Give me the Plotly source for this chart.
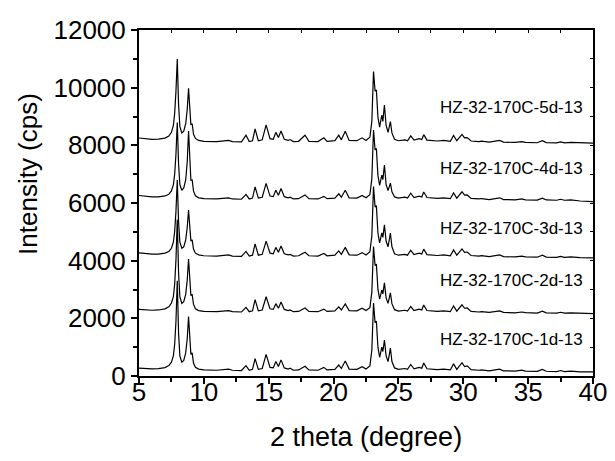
import plotly.graph_objects as go

# 2 theta key points (degree)
two_theta = [
    5.0, 5.5, 6.0, 6.5, 7.0, 7.3, 7.5, 7.65, 7.75, 7.85,
    7.95, 8.05, 8.15, 8.3, 8.45, 8.6, 8.72, 8.82, 8.92, 9.0,
    9.1, 9.2, 9.35, 9.6, 10.0, 11.0, 11.9, 12.2, 12.9, 13.25,
    13.5, 13.75, 13.95, 14.2, 14.5, 14.8, 15.1, 15.35, 15.55, 15.75,
    15.95, 16.2, 16.5, 16.65, 16.9, 17.3, 17.8, 18.1, 18.8, 19.25,
    19.5, 20.1, 20.4, 20.6, 20.9, 21.2, 21.8, 22.2, 22.5, 22.8,
    22.95, 23.08, 23.2, 23.3, 23.42, 23.55, 23.72, 23.8, 23.92, 24.05,
    24.2, 24.38, 24.5, 24.7, 25.0, 25.5, 25.7, 25.95, 26.2, 26.6,
    26.8, 26.95, 27.2, 27.5, 28.0, 28.5, 29.0, 29.25, 29.5, 29.9,
    30.1, 30.3, 30.6, 31.2, 31.4, 32.0, 32.8, 33.1, 34.0, 34.5,
    34.8, 35.7, 36.1, 36.4, 37.2, 37.5, 37.8, 38.3, 39.0, 40.0,
]

# intensity (cps), before stacking
counts_1d = [
    270, 255, 245, 255, 290, 360, 480, 700, 1100, 1900,
    3300, 1500, 700, 480, 540, 800, 1300, 2060, 1100, 750,
    800, 450, 300, 240, 215, 200, 240, 200, 190, 360,
    200, 230, 600, 230, 260, 750, 300, 280, 500, 330,
    560, 280, 240, 270, 200, 210, 340, 210, 200, 300,
    210, 230, 380, 260, 520, 240, 230, 320, 240, 350,
    900, 2530, 1850, 1900, 1000, 650, 1000, 850, 1250, 700,
    500, 970, 500, 280, 230, 260, 230, 400, 250, 300,
    270, 450, 250, 240, 220, 240, 210, 420, 230, 460,
    330, 350, 220, 200, 215, 180, 240, 180, 170, 200,
    170, 160, 230, 165, 155, 190, 155, 170, 145, 140,
]
counts_2d = [
    280, 260, 250, 260, 300, 370, 500, 720, 1150, 2000,
    3400, 1550, 720, 490, 550, 800, 1300, 2030, 1100, 760,
    800, 460, 300, 240, 210, 200, 240, 200, 190, 350,
    200, 230, 620, 230, 260, 720, 300, 280, 480, 320,
    540, 280, 240, 260, 200, 210, 330, 210, 200, 290,
    210, 230, 370, 260, 470, 240, 230, 320, 240, 340,
    880, 2460, 1800, 1850, 980, 640, 950, 820, 1200, 680,
    490, 850, 480, 270, 220, 250, 220, 380, 240, 290,
    260, 430, 240, 230, 210, 230, 200, 400, 220, 440,
    320, 330, 210, 190, 205, 175, 230, 175, 160, 190,
    165, 150, 220, 160, 150, 180, 150, 160, 140, 130,
]
counts_3d = [
    310, 280, 265, 270, 300, 360, 470, 680, 1050, 1750,
    2840, 1400, 680, 470, 520, 760, 1200, 1800, 1000, 720,
    760, 440, 300, 240, 210, 200, 240, 200, 190, 360,
    200, 230, 620, 230, 260, 720, 300, 280, 500, 330,
    550, 280, 240, 260, 200, 210, 330, 210, 200, 290,
    210, 230, 380, 260, 500, 240, 230, 320, 240, 350,
    900, 2610, 1900, 1950, 1000, 660, 1000, 850, 1280, 720,
    520, 1000, 520, 280, 230, 260, 230, 400, 250, 300,
    270, 440, 250, 240, 220, 240, 210, 410, 230, 450,
    330, 340, 220, 200, 215, 180, 240, 180, 170, 200,
    170, 160, 230, 165, 155, 190, 155, 170, 145, 140,
]
counts_4d = [
    320, 290, 270, 275, 305, 365, 480, 690, 1060, 1760,
    2850, 1420, 700, 500, 580, 860, 1500, 2560, 1300, 850,
    860, 480, 310, 240, 210, 200, 240, 200, 190, 360,
    200, 230, 620, 230, 260, 740, 300, 280, 500, 330,
    560, 280, 240, 260, 200, 210, 340, 210, 200, 290,
    210, 230, 380, 260, 500, 240, 230, 320, 240, 350,
    900, 2590, 1900, 1950, 1020, 670, 1030, 870, 1380, 700,
    490, 750, 450, 270, 230, 260, 230, 400, 250, 300,
    270, 440, 250, 240, 220, 240, 210, 410, 230, 450,
    330, 340, 220, 200, 215, 180, 240, 180, 170, 200,
    170, 160, 230, 165, 155, 190, 155, 170, 130, 110,
]
counts_5d = [
    325, 300, 280, 285, 320, 390, 520, 760, 1180, 1950,
    3060, 1500, 720, 500, 560, 820, 1320, 2050, 1120, 780,
    820, 460, 310, 240, 210, 200, 240, 200, 190, 420,
    200, 230, 640, 230, 260, 780, 300, 280, 520, 340,
    570, 280, 240, 270, 200, 210, 420, 210, 200, 330,
    210, 230, 420, 260, 560, 240, 230, 330, 240, 350,
    900, 2630, 1950, 1990, 1050, 700, 1120, 900, 1470, 760,
    520, 890, 500, 280, 230, 260, 230, 400, 250, 300,
    270, 440, 250, 240, 220, 240, 210, 410, 230, 450,
    330, 340, 220, 200, 215, 180, 240, 180, 170, 200,
    170, 160, 230, 165, 155, 190, 155, 170, 160, 150,
]

samples = ["HZ-32-170C-1d-13", "HZ-32-170C-2d-13", "HZ-32-170C-3d-13",
           "HZ-32-170C-4d-13", "HZ-32-170C-5d-13"]
stack_offsets = [0, 2030, 3960, 5940, 7930]
label_y = [1249, 3295, 5133, 7180, 9296]
label_x = 39.4

all_counts = [counts_1d, counts_2d, counts_3d, counts_4d, counts_5d]
for c in all_counts:
    assert len(c) == len(two_theta), len(c)

fig = go.Figure()
for name, cts, off in zip(samples, all_counts, stack_offsets):
    fig.add_trace(go.Scatter(
        x=two_theta, y=[v + off for v in cts], mode="lines", name=name,
        line=dict(color="black", width=1.2), showlegend=False,
    ))

# empty trace for mirrored top/right axes
fig.add_trace(go.Scatter(x=[], y=[], xaxis="x2", yaxis="y2", showlegend=False,
                         hoverinfo="skip"))

FONT = "Liberation Sans, Arial, sans-serif"

fig.update_layout(
    width=615, height=461,
    margin=dict(l=139, r=22, t=30, b=85, autoexpand=False),
    plot_bgcolor="white", paper_bgcolor="white",
    font=dict(family=FONT, color="black"),
    showlegend=False,
    xaxis=dict(
        range=[5, 40], tick0=5, dtick=5, ticks="outside", ticklen=6,
        tickwidth=1.5, tickcolor="black", showline=True, linecolor="black",
        linewidth=1.5, showgrid=False, zeroline=False,
        tickfont=dict(size=26, family=FONT, color="black"),
        ticklabelstandoff=-14,
        minor=dict(tick0=5, dtick=2.5, ticks="outside", ticklen=4,
                   tickwidth=1.5, tickcolor="black", showgrid=False),
    ),
    yaxis=dict(
        range=[0, 12000], tick0=0, dtick=2000, ticks="outside", ticklen=6,
        tickwidth=1.5, tickcolor="black", showline=True, linecolor="black",
        linewidth=2, showgrid=False, zeroline=False, tickformat="d",
        tickfont=dict(size=26, family=FONT, color="black"),
        minor=dict(tick0=0, dtick=1000, ticks="outside", ticklen=4,
                   tickwidth=1.5, tickcolor="black", showgrid=False),
    ),
    xaxis2=dict(
        overlaying="x", side="top", anchor="y", range=[5, 40], tick0=5,
        dtick=2.5, ticks="inside", ticklen=3, tickwidth=1.2,
        tickcolor="black", showline=True, linecolor="black", linewidth=1.5,
        showgrid=False, zeroline=False, showticklabels=False,
    ),
    yaxis2=dict(
        overlaying="y", side="right", anchor="x", range=[0, 12000], tick0=0,
        dtick=1000, ticks="inside", ticklen=3, tickwidth=1.2,
        tickcolor="black", showline=True, linecolor="black", linewidth=1.5,
        showgrid=False, zeroline=False, showticklabels=False,
    ),
)

for name, ly in zip(samples, label_y):
    fig.add_annotation(x=label_x, y=ly, xref="x", yref="y", text=name,
                       showarrow=False, xanchor="right", yanchor="middle",
                       font=dict(size=17, family=FONT, color="black"))

fig.add_annotation(x=0.5, y=-0.176, xref="paper", yref="paper",
                   text="2 theta (degree)", showarrow=False,
                   xanchor="center", yanchor="middle",
                   font=dict(size=27, family=FONT, color="black"))
fig.add_annotation(x=-0.2445, y=0.584, xref="paper", yref="paper",
                   text="Intensity (cps)", textangle=-90, showarrow=False,
                   xanchor="center", yanchor="middle",
                   font=dict(size=26, family=FONT, color="black"))

fig.write_html("out.html", config={"displayModeBar": False},
               post_script="document.body.style.margin='0px';")
